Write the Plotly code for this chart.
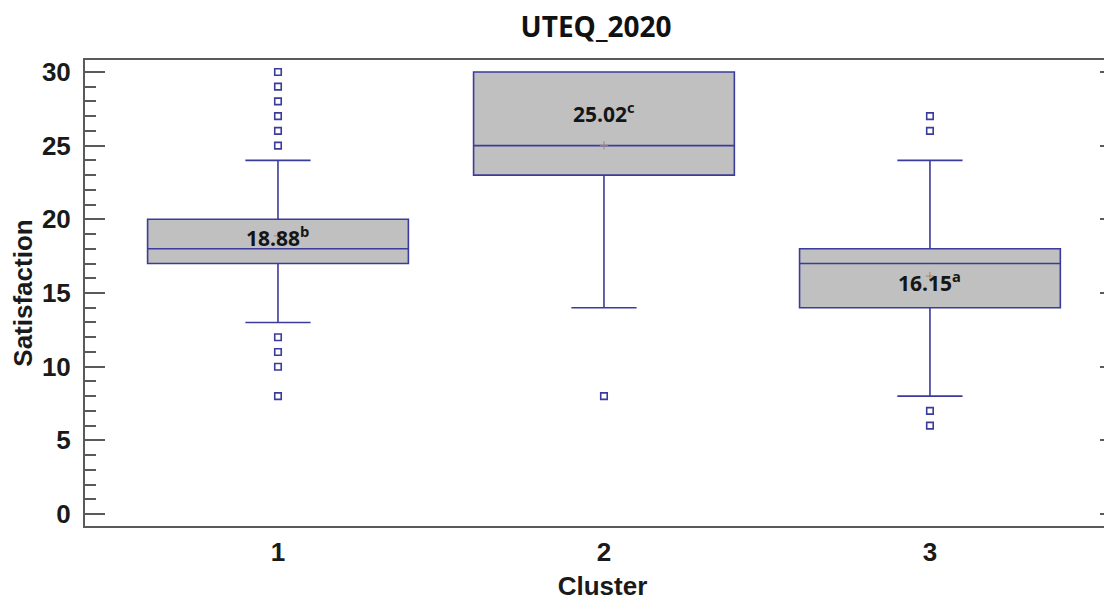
import plotly.graph_objects as go

# ---- data ----
clusters = [1, 2, 3]
q1 = [17, 23, 14]
medians = [18, 25, 17]
q3 = [20, 30, 18]
lower_whisker = [13, 14, 8]
upper_whisker = [24, 30, 24]
means = [18.88, 25.02, 16.15]
letters = ["b", "c", "a"]
outlier_cluster = [1, 1, 1, 1, 1, 1, 1, 1, 1, 1, 2, 3, 3, 3, 3]
outlier_value = [30, 29, 28, 27, 26, 25, 12, 11, 10, 8, 8, 27, 26, 7, 6]
y_ticks = [0, 5, 10, 15, 20, 25, 30]

BOX_LINE = "#3b3b9c"
AXIS = "#5a5a5a"
YR = [-0.81, 30.81]
TXT = "#1a1a1a"

fig = go.Figure()
fig.add_trace(go.Box(
    x=clusters, q1=q1, median=medians, q3=q3,
    lowerfence=lower_whisker, upperfence=upper_whisker,
    width=0.8, whiskerwidth=0.25, boxpoints=False,
    fillcolor="#c0c0c0", line=dict(color=BOX_LINE, width=1.6),
    showlegend=False, hoverinfo="skip",
))
fig.add_trace(go.Scatter(
    x=outlier_cluster, y=outlier_value, mode="markers",
    marker=dict(symbol="square-open", size=6.5, color=BOX_LINE, line=dict(width=1.6, color=BOX_LINE)),
    showlegend=False,
))
fig.add_trace(go.Scatter(
    x=clusters, y=means, mode="markers", yaxis="y2",
    marker=dict(symbol="cross-thin-open", size=6, color="#b08060",
                line=dict(width=1, color="#b08060")),
    showlegend=False,
))

shifts = [-1, 33, -5]
for c, m, l, s in zip(clusters, means, letters, shifts):
    fig.add_annotation(x=c, y=m, text=f"{m:.2f}<sup>{l}</sup>", showarrow=False,
                       yshift=s, font=dict(family="Open Sans", size=21, color="#151515", weight="bold"))

tickfont = dict(family="Liberation Sans, Arial", size=26, color=TXT, weight="bold")
fig.update_layout(
    width=1112, height=603,
    margin=dict(l=77, r=0, t=52, b=85, autoexpand=False),
    paper_bgcolor="white", plot_bgcolor="white",
    title=dict(text="UTEQ_2020", x=0.5288, xanchor="center", y=0.9685, yanchor="middle",
               font=dict(family="Open Sans", size=28, color="#111111", weight="bold")),
    xaxis=dict(range=[0.408, 3.583], tickvals=clusters, ticktext=[str(c) for c in clusters],
               showline=True, linecolor=AXIS, linewidth=2, mirror=True, ticks="",
               showgrid=False, zeroline=False, tickfont=tickfont, automargin=False,
               ticklabelstandoff=2,
               title=dict(text="Cluster", standoff=11,
                          font=dict(family="Liberation Sans, Arial", size=26, color=TXT, weight="bold"))),
    yaxis=dict(range=YR, tickvals=y_ticks, ticks="inside", ticklen=20, tickwidth=2, tickcolor=AXIS,
               minor=dict(dtick=1, ticks="inside", ticklen=11, tickwidth=1.5, tickcolor=AXIS),
               showline=True, linecolor=AXIS, linewidth=2, mirror=False, automargin=False,
               showgrid=False, zeroline=False, tickfont=tickfont, ticklabelstandoff=7,
               title=dict(text="Satisfaction", standoff=8,
                          font=dict(family="Liberation Sans, Arial", size=26, color=TXT, weight="bold"))),
    yaxis2=dict(range=YR, tickvals=y_ticks, overlaying="y", side="right", anchor="x",
                ticks="inside", ticklen=20, tickwidth=2, tickcolor=AXIS, automargin=False,
                minor=dict(dtick=1, ticks="inside", ticklen=11, tickwidth=1.5, tickcolor=AXIS),
                showline=False, showgrid=False, zeroline=False, showticklabels=False),
)

fig.write_html("out.html")
